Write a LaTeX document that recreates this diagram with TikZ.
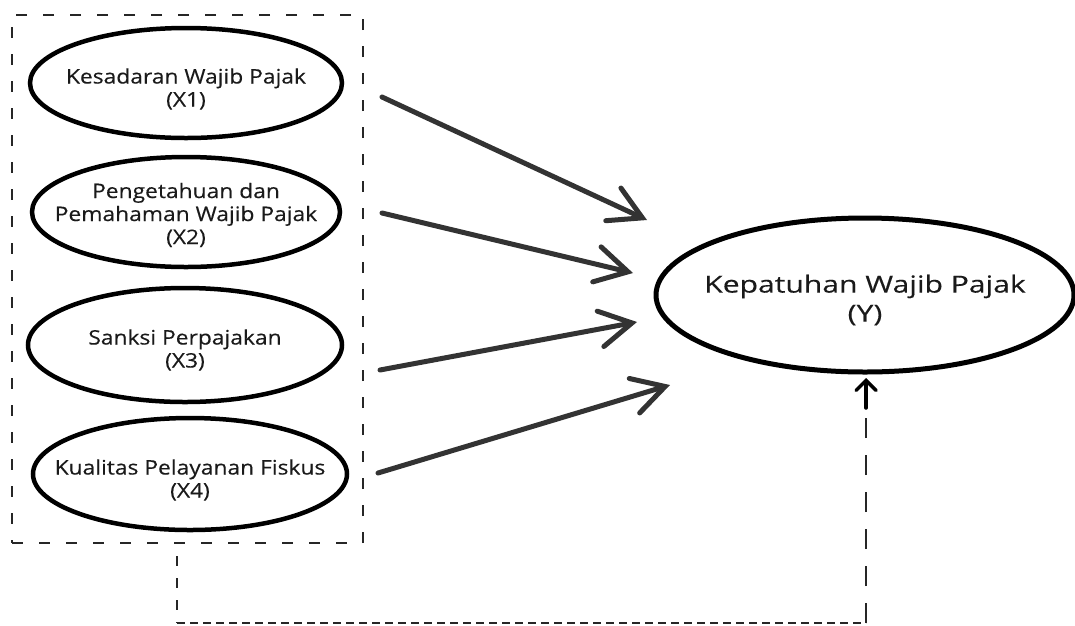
\documentclass[tikz,border=0pt]{standalone}
\usepackage{fontspec}
\setmainfont{Open Sans}
\newfontfamily\smallfam{Open Sans}[FakeStretch=1.14,FakeBold=0.3]
\newfontfamily\bigfam{Open Sans}[FakeStretch=1.28,FakeBold=0.3]
\usetikzlibrary{arrows.meta,shapes.geometric}
\definecolor{arrowgray}{HTML}{333333}
\definecolor{txt}{HTML}{1A1A1A}
\begin{document}
\begin{tikzpicture}[x=1pt,y=-1pt,
  var/.style={draw=black,line width=4.5pt,ellipse,inner sep=0pt},
  vartext/.style={align=center,inner sep=0pt,font=\smallfam\fontsize{20}{23}\selectfont,text=txt},
  bigtext/.style={align=center,inner sep=0pt,font=\bigfam\fontsize{23.5}{29}\selectfont,text=txt},
  flow/.style={draw=arrowgray,line width=5pt,line cap=round,
    -{Straight Barb[length=32pt,width=36pt,line cap=round]}},
  groupbox/.style={draw=black!85,line width=2.6pt,dash pattern=on 11pt off 16pt},
  link/.style={draw=black!85,line width=2.4pt,dash pattern=on 20pt off 17pt},
  linkb/.style={draw=black!85,line width=2.4pt,dash pattern=on 10pt off 12pt},
  base/.style={draw=black!85,line width=1.8pt,dash pattern=on 8pt off 5pt}]
\useasboundingbox (0,0) rectangle (1075,625);

\node[groupbox,draw,rectangle,minimum width=351pt,minimum height=528pt,inner sep=0pt] (box) at (187.5,279) {};

\node[var,minimum width=312pt,minimum height=110pt] (x1) at (186,83) {};
\node[var,minimum width=308pt,minimum height=110pt] (x2) at (186,212) {};
\node[var,minimum width=314pt,minimum height=114pt] (x3) at (185,345) {};
\node[var,minimum width=314pt,minimum height=112pt] (x4) at (190,474) {};
\node[var,line width=5pt,minimum width=418pt,minimum height=154pt] (y) at (865,295) {};

\node[vartext] (x1t) at ([yshift=-6pt]x1.center) {Kesadaran Wajib Pajak\\(X1)};
\node[vartext] (x2t) at ([yshift=-3pt]x2.center) {Pengetahuan dan\\Pemahaman Wajib Pajak\\(X2)};
\node[vartext] (x3t) at ([yshift=-5pt]x3.center) {Sanksi Perpajakan\\(X3)};
\node[vartext] (x4t) at ([yshift=-6pt]x4.center) {Kualitas Pelayanan Fiskus\\(X4)};
\node[bigtext] (yt) at ([yshift=-5pt]y.center) {Kepatuhan Wajib Pajak\\(Y)};

\coordinate (s1) at (382,97);  \coordinate (t1) at (647,220);
\coordinate (s2) at (382,213); \coordinate (t2) at (633,273);
\coordinate (s3) at (380,370); \coordinate (t3) at (637,322);
\coordinate (s4) at (378,473); \coordinate (t4) at (670,385);
\draw[flow] (s1) -- (t1);
\draw[flow] (s2) -- (t2);
\draw[flow] (s3) -- (t3);
\draw[flow] (s4) -- (t4);

\coordinate (bl) at (177,623);
\coordinate (br) at (866,623);
\coordinate (yin) at (866,408);
\coordinate (ytip) at (866,378);
\draw[linkb] (box.south -| bl) ++(0,12) -- (bl);
\draw[link] (br) -- (yin);
\draw[draw=black,line width=3.5pt,line cap=round,-{Straight Barb[length=10pt,width=20pt,line cap=round]}] (yin) -- (ytip);
\draw[base] (bl) -- (br);
\end{tikzpicture}
\end{document}
